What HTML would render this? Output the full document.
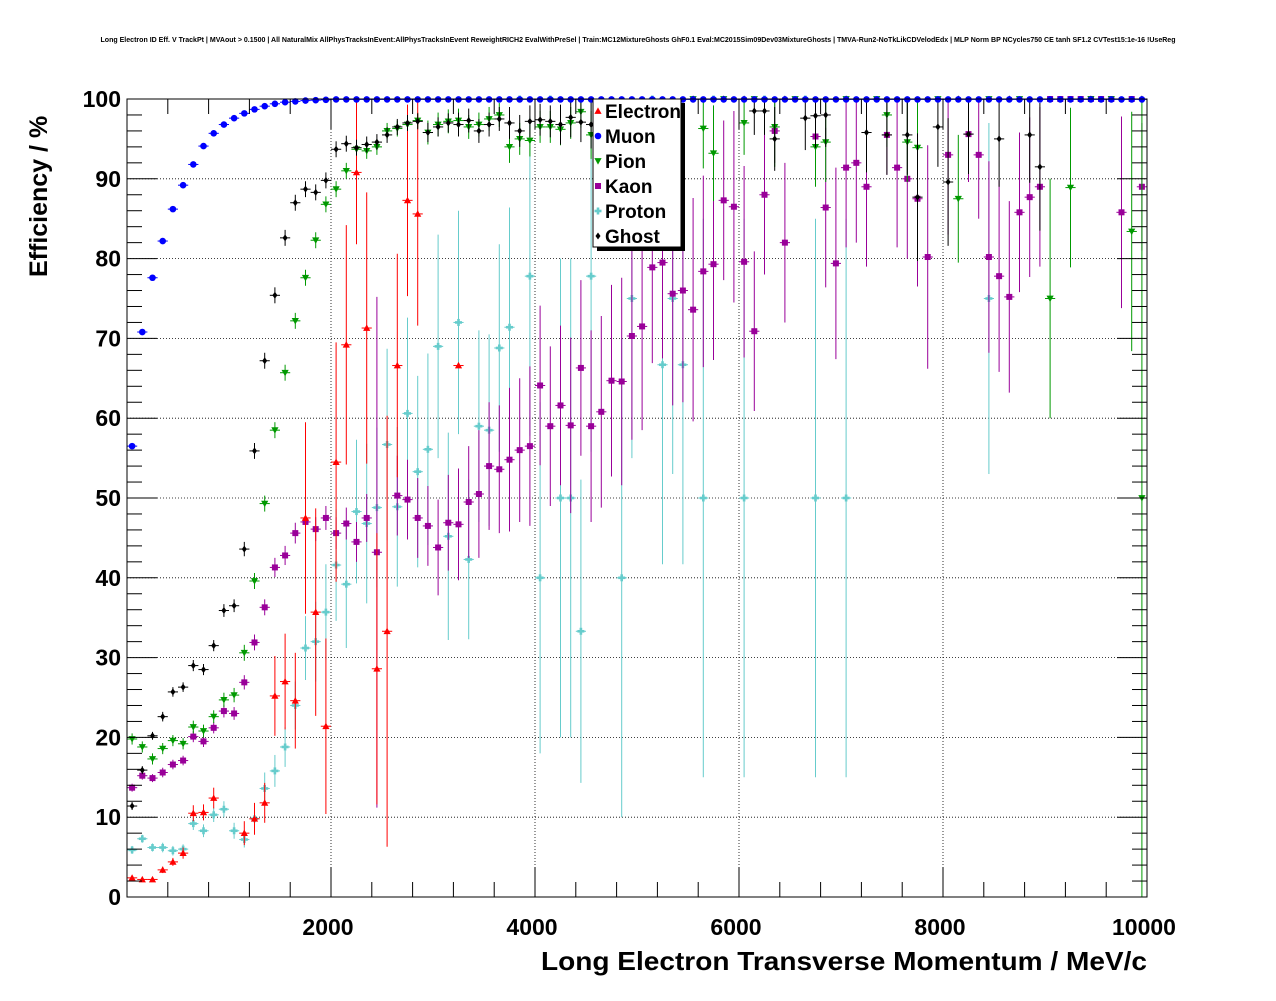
<!DOCTYPE html>
<html><head><meta charset="utf-8"><style>
body{margin:0;background:#fff;}
svg text{font-family:"Liberation Sans",Arial,sans-serif;}
</style></head><body>
<svg id="c" width="1276" height="996" xmlns="http://www.w3.org/2000/svg">
<rect width="1276" height="996" fill="#fff"/>
<text x="638" y="42" font-size="7.3" font-weight="bold" text-anchor="middle" textLength="1075" lengthAdjust="spacingAndGlyphs">Long Electron ID Eff. V TrackPt | MVAout &gt; 0.1500 | All NaturalMix AllPhysTracksInEvent:AllPhysTracksInEvent ReweightRICH2 EvalWithPreSel | Train:MC12MixtureGhosts GhF0.1 Eval:MC2015Sim09Dev03MixtureGhosts | TMVA-Run2-NoTkLikCDVelodEdx | MLP Norm BP NCycles750 CE tanh SF1.2 CVTest15:1e-16 !UseReg</text>
<g id="grid"></g><g id="marks"></g><g id="axes"></g>
<text x="1147" y="970" font-size="26" font-weight="bold" text-anchor="end" textLength="606" lengthAdjust="spacingAndGlyphs">Long Electron Transverse Momentum / MeV/c</text>
<text transform="translate(47,277) rotate(-90)" font-size="25" font-weight="bold">Efficiency / %</text>
<g id="legend"></g>
</svg>
<script>
const xTicks=[2000,4000,6000,8000,10000];
const yTicks=[0,10,20,30,40,50,60,70,80,90,100];
const muonY=[56.5,70.8,77.6,82.2,86.2,89.2,91.8,94.1,95.7,96.8,97.6,98.2,98.7,99.1,99.4,99.6,99.7,99.8,99.85,99.9];
const electronX=[50,150,250,350,450,550,650,750,850,1150,1250,1350,1450,1550,1650,1750,1850,1950,2050,2150,2250,2350,2450,2550,2650,2750,2850,3250];
const electronY=[2.4,2.2,2.2,3.4,4.4,5.5,10.5,10.6,12.4,8.0,9.8,11.8,25.2,27,24.6,47.5,35.7,21.4,54.5,69.2,90.8,71.3,28.6,33.3,66.6,87.3,85.6,66.6];
const electronE=[0.3,0.3,0.3,0.4,0.5,0.7,1,1,1.3,1.5,2,2.5,5,6,6,12,13,11,15,15,9,17,17,27,14,12,14,0];
const pionX=[50,150,250,350,450,550,650,750,850,950,1050,1150,1250,1350,1450,1550,1650,1750,1850,1950,2050,2150,2250,2350,2450,2550,2650,2750,2850,2950,3050,3150,3250,3350,3450,3550,3650,3750,3850,3950,4050,4150,4250,4350,4450,4550,4650,4750,5550,5650,5750,6050,6350,6750,6850,7450,7650,7750,8150,9050,9250,9850,9950,5850,6150,6550,7050,7350,7950,8450,8750,9450,9650];
const pionY=[19.8,18.8,17.3,18.6,19.6,19.2,21.3,20.8,22.6,24.7,25.3,30.6,39.6,49.3,58.5,65.7,72.2,77.6,82.3,86.8,88.7,91,93.7,93.5,94,96,96.3,96.8,97.3,95.8,96.8,97.2,97.3,96.5,96.8,97.5,98,94,95,94.8,96.5,96.5,96.2,97,98.4,95.5,96,96.5,100,96.3,93.2,97,96.5,94,94.6,98,94.6,93.9,87.5,75,88.9,83.4,50,100,100,100,100,100,100,100,100,100,100];
const pionE=[0.7,0.7,0.7,0.7,0.7,0.7,0.8,0.8,0.8,0.9,0.9,1,1,1,1,1,1,1,1,1,1,1,1,1,1,1,1,1,1,1.5,1.5,1.5,1.5,1.5,1.5,1.5,1.5,2,2,2,2,2,2,2,2,3,3,3,0,5,6,4,5,5,5,4,5,6,8,15,10,15,50,0,0,0,0,0,0,0,0,0,0];
const kaonX=[50,150,250,350,450,550,650,750,850,950,1050,1150,1250,1350,1450,1550,1650,1750,1850,1950,2050,2150,2250,2350,2450,2650,2750,2850,2950,3050,3150,3250,3350,3450,3550,3650,3750,3850,3950,4050,4150,4250,4350,4450,4550,4650,4750,4850,4950,5050,5150,5250,5350,5450,5550,5650,5750,5850,5950,6050,6150,6250,6350,6450,6750,6850,6950,7050,7150,7250,7450,7550,7650,7750,7850,8050,8250,8350,8450,8550,8650,8750,8850,8950,9750,9950,9050,9150,9250,9350,9450,9550,9650,9850];
const kaonY=[13.7,15.2,14.9,15.6,16.6,17.1,20.1,19.5,21.2,23.3,23.0,26.9,31.9,36.3,41.3,42.8,45.6,47.0,46.1,47.5,45.6,46.8,44.5,47.5,43.2,50.3,49.8,47.5,46.5,43.8,46.9,46.7,49.5,50.5,54,53.6,54.8,56,56.5,64.1,59.0,61.6,59.1,66.3,59,60.8,64.7,64.6,70.3,71.5,78.9,79.5,75.6,76,73.6,78.4,79.3,87.3,86.5,79.6,70.9,88,96,82,95.3,86.4,79.4,91.4,92,89,95.5,91.4,90,87.5,80.2,93,95.6,93,80.2,77.8,75.2,85.8,87.7,89,85.8,89,100,100,100,100,100,100,100,100];
const kaonE=[0.5,0.5,0.5,0.6,0.6,0.6,0.7,0.7,0.7,0.8,0.8,0.9,1,1,1.2,1.2,1.3,1.5,1.5,1.5,2,2,2.5,3,32,5,5,5,5,6,6,7,7,8,8,8,9,9,10,10,10,10,11,11,12,12,12,13,13,13,12,12,14,14,14,12,12,10,12,12,10,10,4,10,5,10,12,10,10,10,5,10,10,11,14,10,6,8,12,12,12,10,10,10,12,8,0,0,0,0,0,0,0,0];
const protonX=[50,150,250,350,450,550,650,750,850,950,1050,1150,1250,1350,1450,1550,1650,1750,1850,1950,2050,2150,2250,2350,2450,2550,2650,2750,2850,2950,3050,3150,3250,3350,3450,3550,3650,3750,3950,4050,4250,4350,4450,4550,4850,4950,5250,5350,5450,5650,6050,6750,7050,8450,3850,4150,5150,5750,6250,6650];
const protonY=[5.9,7.3,6.2,6.2,5.8,6,9.2,8.3,10.3,11,8.3,7.2,9.8,13.6,15.8,18.8,24,31.2,32,35.7,41.6,39.2,48.3,46.8,48.8,56.7,48.9,60.6,53.3,56.1,69,45.2,72,42.3,59,58.5,68.8,71.4,77.8,40,50,50,33.3,77.8,40,75,66.7,75,66.7,50,50,50,50,75,100,100,100,100,100,100];
const protonE=[0.5,0.5,0.5,0.6,0.6,0.6,0.8,0.8,0.9,1,1,1,1.5,2,2,2.5,3,4,5,6,7,8,9,10,10,12,10,12,12,12,14,13,14,10,12,12,13,15,20,22,30,30,19,22,30,20,25,22,25,35,35,35,35,22,0,0,0,0,0,0];
const ghostX=[50,150,250,350,450,550,650,750,850,950,1050,1150,1250,1350,1450,1550,1650,1750,1850,1950,2050,2150,2250,2350,2450,2550,2650,2750,2850,2950,3050,3150,3250,3350,3450,3550,3650,3750,3850,3950,4050,4150,4250,4350,4450,4550,4650,4950,5150,5350,6150,6250,6350,6650,6750,6850,7250,7450,7650,7750,7950,8050,8250,8550,8850,8950,5550,5850,6050,6450,7050,8150,8650,9450,9950];
const ghostY=[11.4,15.9,20.2,22.6,25.7,26.3,29.0,28.5,31.5,35.9,36.5,43.6,55.9,67.2,75.4,82.6,87,88.7,88.3,89.8,93.7,94.4,93.9,94.3,94.6,95.5,96.5,97,97.2,95.8,96.5,97,96.8,97.3,96,96.8,97.5,97,96,97.2,97.4,97.2,96.8,97.7,97.1,96.8,95.9,96.5,97.7,96.2,98.5,98.5,95,97.6,97.9,98,95.8,95.5,95.5,87.7,96.5,89.6,95.6,95,95.5,91.5,100,100,100,100,100,100,100,100,100];
const ghostE=[0.5,0.5,0.5,0.6,0.6,0.6,0.7,0.7,0.7,0.8,0.8,0.9,1,1,1,1,1,1,1,1,1,1,1,1,1,1,1,1,1,1.2,1.2,1.2,1.5,1.5,1.5,1.5,1.5,2,2,2,2,2,2.5,2.5,2.5,3,3,3,3,4,3,3,4,4,4,4,5,5,5,8,5,8,5,6,6,8,0,0,0,0,0,0,0,0,0];

const X0=127,X1=1147,Y0=897,Y1=99;
const xs=v=>X0+(v/10000)*(X1-X0);
const ys=v=>Y0-(v/100)*(Y0-Y1);
const NS='http://www.w3.org/2000/svg';
function mk(tag,attrs,parent){const e=document.createElementNS(NS,tag);for(const k in attrs)e.setAttribute(k,attrs[k]);parent.appendChild(e);return e;}
const grid=document.getElementById('grid'),axes=document.getElementById('axes'),marks=document.getElementById('marks');
mk('rect',{x:X0,y:Y1,width:X1-X0,height:Y0-Y1,fill:'none',stroke:'#000','stroke-width':1},axes);
xTicks.forEach(t=>{const x=xs(t);
 const l=mk('line',{x1:x,x2:x,y1:Y1,y2:Y0,stroke:'#000','stroke-dasharray':'1,2','stroke-width':0.8},grid);
 
 const tx=mk('text',{x:x-3,y:935,'font-size':23,'font-weight':'bold','text-anchor':'middle'},axes);tx.textContent=t;
 });
for(let v=400;v<10000;v+=400){const x=xs(v);const big=v%2000===0;const L=big?30:15;
 mk('line',{x1:x,x2:x,y1:Y0,y2:Y0-L,stroke:'#000'},axes);mk('line',{x1:x,x2:x,y1:Y1,y2:Y1+L,stroke:'#000'},axes);}
yTicks.forEach(t=>{const y=ys(t);
 if(t>0&&t<100){const l=mk('line',{x1:X0,x2:X1,y1:y,y2:y,stroke:'#000','stroke-dasharray':'1,2','stroke-width':0.8},grid);
 }
 const tx=mk('text',{x:121,y:y+8,'font-size':23,'font-weight':'bold','text-anchor':'end'},axes);tx.textContent=t;
 });
for(let v=2;v<100;v+=2){const y=ys(v);const L=v%10===0?30:15;
 mk('line',{x1:X0,x2:X0+L,y1:y,y2:y,stroke:'#000'},axes);mk('line',{x1:X1,x2:X1-L,y1:y,y2:y,stroke:'#000'},axes);}
function marker(g,type,cx,cy,col){const s=3.6;
 if(type==='tu')mk('polygon',{points:`${cx},${cy-s} ${cx-s},${cy+s*0.8} ${cx+s},${cy+s*0.8}`,fill:col},g);
 else if(type==='td')mk('polygon',{points:`${cx},${cy+s} ${cx-s},${cy-s*0.8} ${cx+s},${cy-s*0.8}`,fill:col},g);
 else if(type==='c')mk('circle',{cx:cx,cy:cy,r:3.3,fill:col},g);
 else if(type==='s')mk('rect',{x:cx-3,y:cy-3,width:6,height:6,fill:col},g);
 else if(type==='x'){mk('rect',{x:cx-3.5,y:cy-1.3,width:7,height:2.6,fill:col},g);mk('rect',{x:cx-1.3,y:cy-3.5,width:2.6,height:7,fill:col},g);}
 else if(type==='d')mk('polygon',{points:`${cx},${cy-3.5} ${cx-2.5},${cy} ${cx},${cy+3.5} ${cx+2.5},${cy}`,fill:col},g);}
function series(name,X,Y,E,type,col){const g=mk('g',{},marks);
 
 X.forEach((xv,i)=>{const cx=xs(xv),cy=ys(Y[i]);const e=E[i]||0;
  mk('line',{x1:xs(xv-50),x2:xs(xv+50),y1:cy,y2:cy,stroke:col,'stroke-width':1},g);
  if(e>0)mk('line',{x1:cx,x2:cx,y1:ys(Math.min(100,Y[i]+e)),y2:ys(Math.max(0,Y[i]-e)),stroke:col,'stroke-width':1},g);
  marker(g,type,cx,cy,col);});}
const muonX=[],muonYF=[],muonE=[];
for(let i=0;i<100;i++){muonX.push(50+100*i);muonYF.push(i<muonY.length?muonY[i]:99.95);muonE.push(0);}
series('proton',protonX,protonY,protonE,'x','#66cccc');
series('kaon',kaonX,kaonY,kaonE,'s','#990099');
series('pion',pionX,pionY,pionE,'td','#009900');
series('electron',electronX,electronY,electronE,'tu','#ff0000');
series('ghost',ghostX,ghostY,ghostE,'d','#000000');
series('muon',muonX,muonYF,muonE,'c','#0000ff');
const lg=document.getElementById('legend');
mk('rect',{x:597,y:103,width:88,height:148,fill:'#000'},lg);
mk('rect',{x:593,y:99,width:88,height:148,fill:'#fff',stroke:'#000','stroke-width':1},lg);
const legN=['Electron','Muon','Pion','Kaon','Proton','Ghost'],legT=['tu','c','td','s','x','d'],legC=['#ff0000','#0000ff','#009900','#990099','#66cccc','#000'];
legN.forEach((n,i)=>{const y=111+i*25;const g=mk('g',{},lg);
 
 marker(g,legT[i],598,y,legC[i]);
 const t=mk('text',{x:605,y:y+7,'font-size':19,'font-weight':'bold'},g);t.textContent=n;});
</script>
</body></html>
